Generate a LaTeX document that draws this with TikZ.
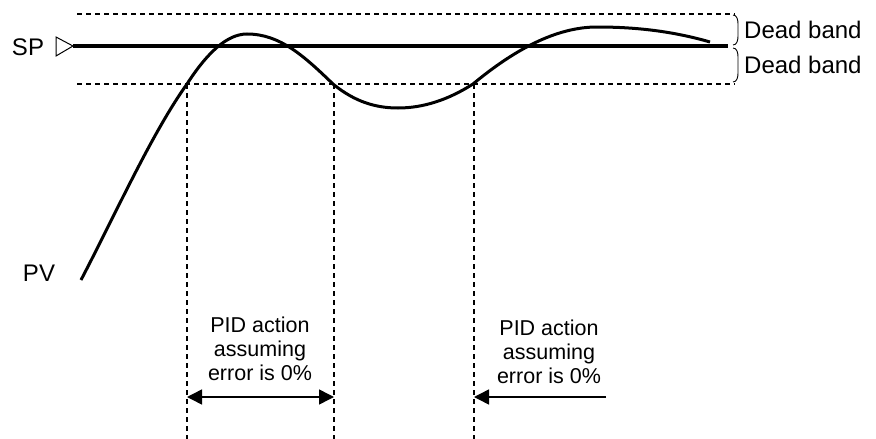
\documentclass[tikz,border=0pt]{standalone}
\usepackage{fontspec}
\setmainfont{Liberation Sans}
\usetikzlibrary{arrows.meta}
\newcommand{\cutline}[2]{\draw[band] (#1,84) -- (#1,439); \coordinate (#2) at (#1,397);}
\newcommand{\bandbrace}[3]{\draw[line width=0.9pt] (733,#1) to[out=0,in=90] (738,#1+9) -- (738,#2-9) to[out=-90,in=0] (733,#2); \node[lbl,anchor=west] (#3) at (744,#1/2+#2/2) {Dead band};}

\begin{document}
\begin{tikzpicture}[x=1pt,y=-1pt,
  band/.style={line width=1.3pt,dash pattern=on 5pt off 4pt},
  lbl/.style={font=\fontsize{24}{26}\selectfont,inner sep=0pt},
  txt/.style={font=\fontsize{21.5}{24}\selectfont,align=center,inner sep=0pt},
  tip/.style={line width=1.5pt,-{Triangle[length=15pt,width=15pt]}},
  act/.style={line width=1.5pt,{Triangle[length=15pt,width=15pt]}-{Triangle[length=15pt,width=15pt]}}]
\useasboundingbox (0,0) rectangle (876,439);
    % set point and dead band limits
    \draw[band] (77,14) -- (735,14);
    \draw[band] (77,84) -- (735,84);
    \draw[line width=3.3pt] (73,46) -- (728,46);
    \draw[line width=1pt] (56,37) -- (73,46) -- (56,56) -- cycle;
    \node[lbl] (SP) at (28,47) {SP};
    \bandbrace{15}{45}{DB1}
    \bandbrace{48}{82}{DB2}
    % process variable
    \draw[line width=3pt] (81,280) .. controls (116,213) and (152,133) .. (187,84)
        .. controls (207,53) and (227,34) .. (247,34)
        .. controls (280,34) and (304,56) .. (333,84)
        .. controls (355,102) and (376,108) .. (398,108)
        .. controls (423,108) and (448,100) .. (473,84)
        .. controls (514,50) and (556,27) .. (597,27)
        .. controls (635,27) and (672,31) .. (710,42);
    \node[lbl] (PV) at (39,273) {PV};
    % zero error zones
    \cutline{187}{A1} \cutline{334}{A2} \cutline{474}{B1}
    \coordinate (B2) at (606,397);
    \node[txt] (PID1) at (260,349) {PID action\\assuming\\error is 0\%};
    \node[txt] (PID2) at (549,352) {PID action\\assuming\\error is 0\%};
    \draw[act] (A1) -- (A2);
    \draw[tip] (B2) -- (B1);
\end{tikzpicture}
\end{document}
